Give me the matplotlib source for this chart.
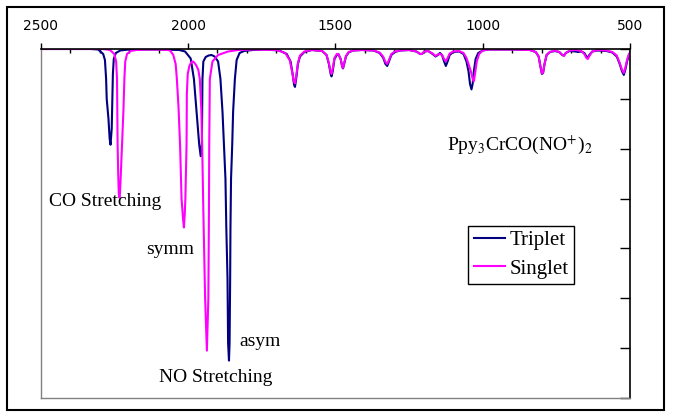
import matplotlib
matplotlib.use('Agg')
import matplotlib.pyplot as plt
from matplotlib.patches import Rectangle
from matplotlib.ticker import MultipleLocator

# wavenumber (cm-1) and band depth (0 = baseline at top)
triplet_cm = [2500, 2330, 2305, 2288, 2282, 2278, 2276, 2270, 2266, 2263, 2259, 2257, 2255, 2252,
              2245, 2230, 2200, 2100, 2030, 2010, 1991, 1980, 1971, 1962, 1957, 1953, 1952, 1951,
              1948, 1940, 1930, 1920, 1910, 1898, 1890, 1883, 1878, 1873, 1870, 1866, 1864, 1861,
              1859, 1857, 1856, 1854, 1850, 1847, 1841, 1835, 1825, 1810, 1780, 1740, 1690, 1665,
              1652, 1645, 1640, 1637, 1633, 1627, 1620, 1605, 1580, 1545, 1530, 1522, 1516, 1513,
              1509, 1503, 1495, 1490, 1482, 1477, 1474, 1470, 1464, 1455, 1440, 1410, 1370, 1350,
              1338, 1330, 1324, 1318, 1310, 1298, 1280, 1250, 1225, 1212, 1206, 1198, 1185, 1170,
              1160, 1152, 1145, 1138, 1131, 1125, 1119, 1112, 1100, 1080, 1065, 1055, 1048, 1043,
              1038, 1034, 1030, 1024, 1015, 1000, 980, 900, 840, 820, 810, 804, 799, 795, 790, 783,
              772, 755, 740, 730, 724, 718, 705, 685, 677, 665, 655, 648, 643, 638, 628, 610, 580,
              560, 545, 535, 527, 521, 516, 510, 505, 500]
triplet_depth = [0, 0, 0.01, 0.1, 0.22, 0.6, 1.0, 1.4, 1.8, 1.92, 1.6, 1.0, 0.5, 0.2,
                 0.08, 0.03, 0.01, 0.01, 0.02, 0.05, 0.19, 0.6, 1.26, 1.92, 2.15, 1.9, 1.2, 0.6,
                 0.25, 0.16, 0.13, 0.12, 0.15, 0.25, 0.6, 1.26, 1.92, 2.6, 3.6, 4.6, 5.9, 6.25,
                 5.9, 4.6, 3.6, 2.6, 1.92, 1.26, 0.6, 0.22, 0.08, 0.04, 0.02, 0.01, 0.03, 0.1,
                 0.25, 0.5, 0.72, 0.76, 0.6, 0.3, 0.15, 0.06, 0.02, 0.04, 0.12, 0.3, 0.5, 0.55,
                 0.45, 0.2, 0.12, 0.1, 0.2, 0.35, 0.39, 0.3, 0.15, 0.07, 0.03, 0.02, 0.03, 0.08,
                 0.17, 0.3, 0.34, 0.25, 0.12, 0.06, 0.03, 0.02, 0.05, 0.1, 0.1, 0.05, 0.04, 0.1,
                 0.15, 0.12, 0.08, 0.12, 0.25, 0.34, 0.25, 0.12, 0.06, 0.05, 0.1, 0.25, 0.45, 0.7,
                 0.81, 0.7, 0.45, 0.2, 0.08, 0.03, 0.01, 0.01, 0.02, 0.06, 0.15, 0.35, 0.5, 0.48, 0.3, 0.12,
                 0.06, 0.04, 0.06, 0.12, 0.13, 0.08, 0.04, 0.05, 0.06, 0.05, 0.08, 0.15, 0.17, 0.12, 0.05, 0.03, 0.04,
                 0.07, 0.15, 0.3, 0.45, 0.52, 0.42, 0.25, 0.15, 0.08]

singlet_cm = [2500, 2290, 2265, 2250, 2244, 2241, 2240, 2239, 2237, 2235, 2233, 2231, 2228, 2224,
              2219, 2216, 2213, 2207, 2195, 2175, 2140, 2100, 2070, 2061, 2050, 2042, 2038, 2032,
              2027, 2022, 2017, 2014, 2011, 2009, 2005, 2004, 2001, 1995, 1988, 1983, 1978, 1972,
              1965, 1960, 1955, 1952, 1948, 1942, 1936, 1931, 1929, 1928, 1926, 1917, 1898, 1864,
              1830, 1780, 1700, 1670, 1655, 1647, 1641, 1637, 1633, 1627, 1620, 1605, 1580, 1545,
              1530, 1522, 1516, 1513, 1509, 1503, 1495, 1490, 1482, 1477, 1474, 1470, 1464, 1455,
              1440, 1410, 1370, 1350, 1338, 1330, 1324, 1318, 1310, 1298, 1280, 1250, 1225, 1212,
              1206, 1198, 1185, 1170, 1160, 1152, 1145, 1138, 1131, 1125, 1119, 1112, 1100, 1080,
              1065, 1055, 1048, 1040, 1034, 1030, 1026, 1020, 1012, 1000, 980, 900, 840, 820, 810,
              804, 799, 795, 790, 783, 772, 755, 740, 730, 724, 718, 705, 685, 665, 655, 648, 643,
              638, 628, 610, 580, 560, 545, 535, 527, 521, 516, 510, 505, 500]
singlet_depth = [0, 0, 0.02, 0.1, 0.25, 0.6, 1.2, 1.9, 2.5, 2.9, 2.98, 2.9, 2.5, 1.9,
                 1.2, 0.6, 0.25, 0.1, 0.04, 0.02, 0.01, 0.01, 0.02, 0.03, 0.12, 0.3, 0.59, 1.2,
                 1.92, 3.0, 3.4, 3.58, 3.3, 3.0, 1.92, 0.9, 0.5, 0.33, 0.26, 0.25, 0.28, 0.33,
                 0.42, 0.6, 1.2, 1.92, 3.25, 5.0, 6.05, 5.0, 3.25, 1.92, 0.6, 0.25, 0.12, 0.05,
                 0.02, 0.01, 0.02, 0.08, 0.22, 0.45, 0.65, 0.69, 0.55, 0.28, 0.13, 0.05, 0.02, 0.04,
                 0.12, 0.28, 0.46, 0.5, 0.4, 0.18, 0.1, 0.1, 0.2, 0.34, 0.38, 0.28, 0.14, 0.06,
                 0.03, 0.02, 0.03, 0.07, 0.15, 0.26, 0.3, 0.22, 0.1, 0.05, 0.03, 0.02, 0.05, 0.1,
                 0.1, 0.05, 0.04, 0.09, 0.14, 0.11, 0.1, 0.12, 0.2, 0.25, 0.18, 0.09, 0.05, 0.04,
                 0.08, 0.18, 0.3, 0.45, 0.6, 0.65, 0.5, 0.25, 0.1, 0.03, 0.01, 0.01, 0.02, 0.06, 0.15,
                 0.35, 0.49, 0.47, 0.3, 0.12, 0.06, 0.03, 0.06, 0.12, 0.14, 0.08, 0.03, 0.02, 0.04, 0.1, 0.18, 0.2,
                 0.14, 0.05, 0.02, 0.03, 0.06, 0.13, 0.28, 0.42, 0.48, 0.38, 0.22, 0.12, 0.07]

x_ticks = [2500, 2000, 1500, 1000, 500]

plt.rcParams['mathtext.fontset'] = 'stix'
serif = 'Liberation Serif'

fig = plt.figure(figsize=(6.75, 4.17), dpi=100)
ax = fig.add_axes([40.7 / 675, 19 / 417, 589.3 / 675, 349 / 417])

ax.plot(triplet_cm, triplet_depth, color='#000080', lw=1.5, label='Triplet')
ax.plot(singlet_cm, singlet_depth, color='#FF00FF', lw=1.5, label='Singlet')

ax.set_xlim(2500, 500)
ax.set_ylim(7, 0)

# x axis drawn along the top, y ticks on the right spine
ax.xaxis.tick_top()
ax.set_xticks(x_ticks)
ax.xaxis.set_minor_locator(MultipleLocator(100))
ax.tick_params(axis='x', which='major', direction='out', length=4, width=1, pad=7.5, labelsize=10)
ax.tick_params(axis='x', which='minor', direction='in', length=3, width=1)
ax.yaxis.tick_right()
ax.yaxis.set_major_locator(MultipleLocator(1))
ax.tick_params(axis='y', which='major', direction='in', length=7.5, width=1, labelright=False)

for side in ['left', 'bottom']:
    ax.spines[side].set_color('#808080')
    ax.spines[side].set_linewidth(1)
for side in ['top', 'right']:
    ax.spines[side].set_color('black')
    ax.spines[side].set_linewidth(1.2)

txt = dict(fontsize=14, family=serif, va='baseline', ha='left')
ax.text(2471, 3.14, 'CO Stretching', **txt)
ax.text(2141, 4.11, 'symm', **txt)
ax.text(1827, 5.95, 'asym', **txt)
ax.text(2099, 6.67, 'NO Stretching', **txt)
ax.text(1121, 2.02, r'Ppy$_3$CrCO(NO$^{+}$)$_2$', **txt)

leg = ax.legend(loc='upper left', bbox_to_anchor=(0.7256, 0.4937), borderaxespad=0,
                prop={'family': serif, 'size': 15}, fancybox=False, framealpha=1,
                edgecolor='black', handlelength=1.5, handletextpad=0.22,
                labelspacing=0.41, borderpad=0.25)
leg.get_frame().set_linewidth(1)

fig.patches.append(Rectangle((7 / 675, 7 / 417), 657 / 675, 403 / 417, transform=fig.transFigure,
                             fill=False, edgecolor='black', lw=1.5))

fig.savefig('out.png', dpi=100)
